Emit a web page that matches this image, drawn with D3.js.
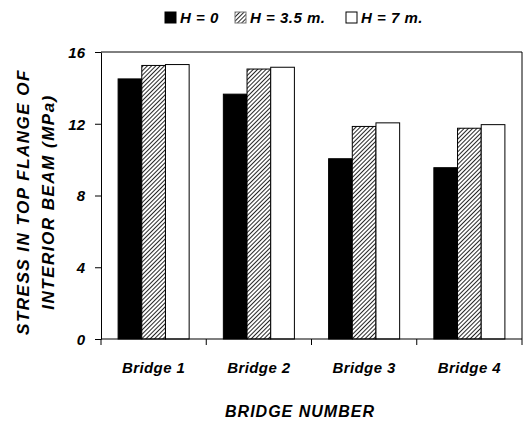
<!DOCTYPE html>
<html>
<head>
<meta charset="utf-8">
<script src="https://cdn.jsdelivr.net/npm/d3@7"></script>
<style>
  body { margin: 0; background: #fff; }
  text { font-family: "Liberation Sans", Arial, sans-serif; font-weight: bold; font-style: italic; fill: #000; }
</style>
</head>
<body>
<script>
// bridges along the x axis
const bridges = ["Bridge 1", "Bridge 2", "Bridge 3", "Bridge 4"];
// series names (legend)
const seriesNames = ["H = 0", "H = 3.5 m.", "H = 7 m."];
// stress values in MPa, one array per series
const h0 = [14.5, 13.65, 10.05, 9.55];
const h35 = [15.25, 15.05, 11.85, 11.75];
const h7 = [15.3, 15.15, 12.05, 11.95];
const yTicks = [0, 4, 8, 12, 16];

const series = [h0, h35, h7];

const W = 523, H = 421;
const margin = { top: 52, right: 1, bottom: 82, left: 101 },
  width = W - margin.left - margin.right,
  height = H - margin.top - margin.bottom;

const svg = d3.select("body").append("svg")
  .attr("width", W)
  .attr("height", H);

// hatch pattern for the middle series
const defs = svg.append("defs");
const pat = defs.append("pattern")
  .attr("id", "hatch")
  .attr("patternUnits", "userSpaceOnUse")
  .attr("width", 3)
  .attr("height", 3)
  .attr("patternTransform", "rotate(45)");
pat.append("rect").attr("width", 3).attr("height", 3).attr("fill", "#fff");
pat.append("line")
  .attr("x1", 0).attr("y1", 0).attr("x2", 0).attr("y2", 3)
  .attr("stroke", "#000").attr("stroke-width", 1.7);

const fills = ["#000", "url(#hatch)", "#fff"];

const g = svg.append("g")
  .attr("transform", `translate(${margin.left}, ${margin.top})`);

const x0 = d3.scaleBand().domain(bridges).range([0, width])
  .paddingInner(0.325).paddingOuter(0.1625);
const x1 = d3.scaleBand().domain(d3.range(series.length)).range([0, x0.bandwidth()]);
const y = d3.scaleLinear().domain([0, 16]).range([height, 0]);

// bars
const groups = g.selectAll(".grp")
  .data(bridges)
  .enter().append("g")
  .attr("class", "grp")
  .attr("transform", d => `translate(${x0(d)},0)`);

groups.selectAll("rect")
  .data((d, i) => series.map((s, k) => ({ k: k, v: s[i] })))
  .enter().append("rect")
  .attr("x", d => x1(d.k))
  .attr("y", d => y(d.v))
  .attr("width", x1.bandwidth())
  .attr("height", d => y(0) - y(d.v))
  .attr("fill", d => fills[d.k])
  .attr("stroke", "#000")
  .attr("stroke-width", 1);

// frame: top and right
g.append("line").attr("x1", 0).attr("x2", width).attr("y1", 0).attr("y2", 0)
  .attr("stroke", "#000").attr("stroke-width", 1);
g.append("line").attr("x1", width).attr("x2", width).attr("y1", 0).attr("y2", height)
  .attr("stroke", "#000").attr("stroke-width", 1);

// y axis
const yAxis = g.append("g")
  .call(d3.axisLeft(y).tickValues(yTicks).tickSize(6).tickPadding(10).tickSizeOuter(0));
yAxis.select(".domain").attr("stroke-width", 1);
yAxis.selectAll("text").style("font-size", "15px").attr("dy", "0.35em");

// x axis with ticks between groups
const step = x0.step();
const xAxis = g.append("g").attr("transform", `translate(0, ${height})`);
xAxis.append("line").attr("x1", 0).attr("x2", width)
  .attr("stroke", "#000").attr("stroke-width", 1.2);
xAxis.selectAll(".sep")
  .data(d3.range(bridges.length + 1))
  .enter().append("line")
  .attr("class", "sep")
  .attr("x1", i => i * step).attr("x2", i => i * step)
  .attr("y1", 0).attr("y2", 6)
  .attr("stroke", "#000");
xAxis.selectAll(".lbl")
  .data(bridges)
  .enter().append("text")
  .attr("class", "lbl")
  .attr("x", d => x0(d) + x0.bandwidth() / 2)
  .attr("y", 34)
  .attr("text-anchor", "middle")
  .style("font-size", "15px")
  .style("letter-spacing", "0.4px")
  .text(d => d);

// axis titles
svg.append("text")
  .attr("x", 300)
  .attr("y", 417)
  .attr("text-anchor", "middle")
  .style("font-size", "16px")
  .style("letter-spacing", "1px")
  .text("BRIDGE NUMBER");

const yTitle = svg.append("text")
  .attr("transform", "translate(0, 202) rotate(-90)")
  .attr("text-anchor", "middle")
  .style("font-size", "17px")
  .style("letter-spacing", "1.5px");
yTitle.append("tspan").attr("x", 0).attr("y", 29).text("STRESS IN TOP FLANGE OF");
yTitle.append("tspan").attr("x", 0).attr("y", 54).text("INTERIOR BEAM (MPa)");

// legend
const legendX = [165, 235, 346];
const legend = svg.selectAll(".leg")
  .data(seriesNames)
  .enter().append("g")
  .attr("class", "leg")
  .attr("transform", (d, i) => `translate(${legendX[i]}, 12)`);
legend.append("rect")
  .attr("width", 11).attr("height", 11)
  .attr("fill", (d, i) => fills[i])
  .attr("stroke", (d, i) => i === 1 ? "#777" : "#000")
  .attr("stroke-width", 1);
legend.append("text")
  .attr("x", 15)
  .attr("y", 11)
  .style("font-size", "15px")
  .style("letter-spacing", "0.5px")
  .text(d => d);
</script>
</body>
</html>
